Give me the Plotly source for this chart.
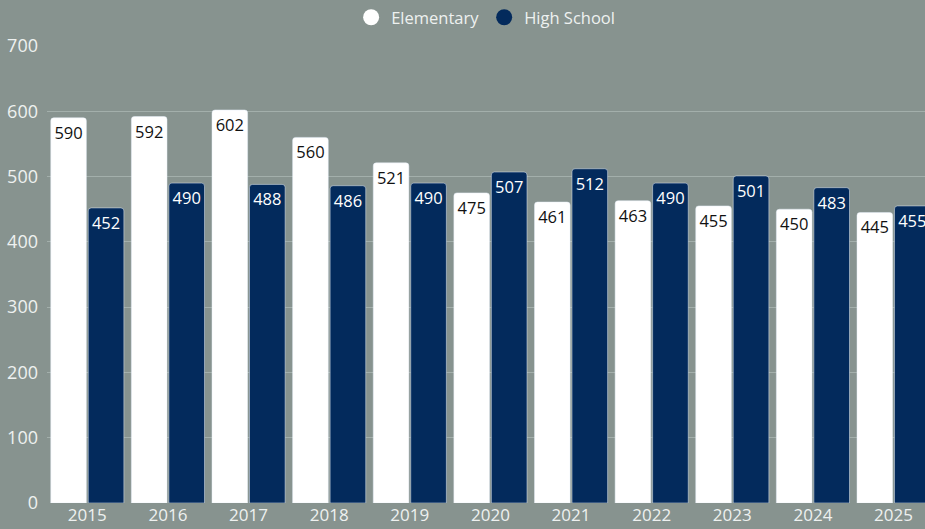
import plotly.graph_objects as go

years = ["2015", "2016", "2017", "2018", "2019", "2020", "2021", "2022", "2023", "2024", "2025"]
elementary = [590, 592, 602, 560, 521, 475, 461, 463, 455, 450, 445]
high_school = [452, 490, 488, 486, 490, 507, 512, 490, 501, 483, 455]
y_ticks = [0, 100, 200, 300, 400, 500, 600, 700]

BG = "#87938f"
NAVY = "#032a5c"
WHITE = "#ffffff"
FONT = "Open Sans"
TXT = "#eef1f0"

fig = go.Figure()
fig.add_trace(go.Bar(
    x=years, y=elementary, name="Elementary", marker_color=WHITE,
    text=[str(v) for v in elementary], textposition="inside", insidetextanchor="end",
    textfont=dict(color="#111111", size=16.5, family=FONT), constraintext="none",
    showlegend=False, cliponaxis=True,
))
fig.add_trace(go.Bar(
    x=years, y=high_school, name="High School", marker_color=NAVY,
    text=[str(v) for v in high_school], textposition="inside", insidetextanchor="end",
    textfont=dict(color="#ffffff", size=16.5, family=FONT), constraintext="none",
    showlegend=False, cliponaxis=True,
))
# legend entries with circular markers
fig.add_trace(go.Scatter(x=[None], y=[None], mode="markers", name="Elementary",
                         marker=dict(symbol="circle", size=16, color=WHITE)))
fig.add_trace(go.Scatter(x=[None], y=[None], mode="markers", name="High School",
                         marker=dict(symbol="circle", size=16, color=NAVY)))

fig.update_layout(
    width=925, height=529,
    paper_bgcolor=BG, plot_bgcolor=BG,
    margin=dict(l=47, r=0, t=46, b=26, pad=0, autoexpand=False),
    barmode="group", bargap=0.07, bargroupgap=0.05,
    barcornerradius=3,
    font=dict(family=FONT, size=17, color=TXT),
    legend=dict(orientation="h", x=0.525, xanchor="center", xref="container",
                y=1.0, yanchor="top", yref="container",
                font=dict(size=16.5, color=TXT), bgcolor="rgba(0,0,0,0)",
                itemsizing="trace", itemwidth=30),
    xaxis=dict(type="category", range=[-0.5, 10.39], showgrid=False, showline=False,
               zeroline=False, ticks="", tickfont=dict(size=17, color=TXT),
               automargin=False),
    yaxis=dict(range=[0, 700], tickvals=y_ticks, showgrid=True, gridcolor="#a3afab",
               gridwidth=1, zeroline=False, showline=False, ticks="",
               ticklabelstandoff=8,
               tickfont=dict(size=18, color=TXT), automargin=False),
)

fig.write_html("out.html", config={"displayModeBar": False},
               post_script="document.body.style.margin='0';document.body.style.overflow='hidden';")
